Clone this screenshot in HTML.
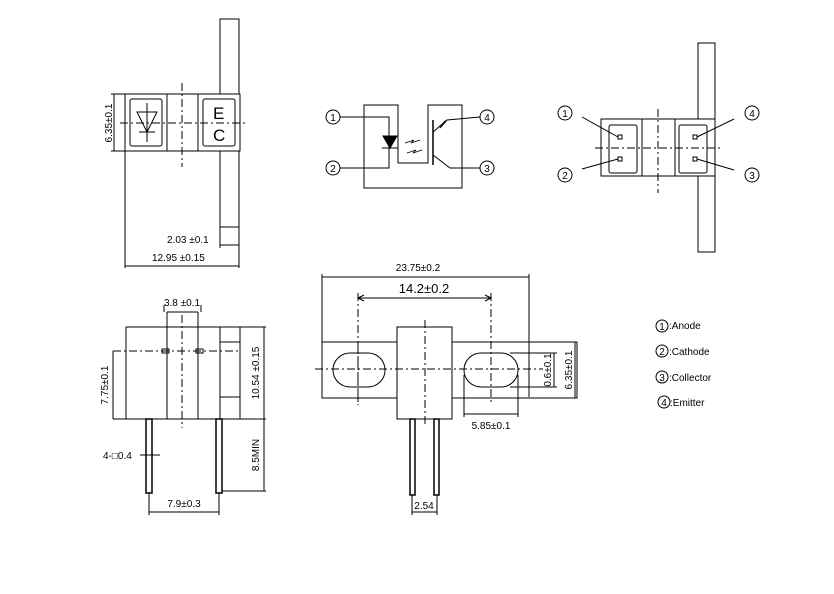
<!DOCTYPE html>
<html><head><meta charset="utf-8"><style>
html,body{margin:0;padding:0;background:#fff;}
svg{display:block;}
text{font-family:"Liberation Sans",sans-serif;fill:#000;}
</style></head><body>
<svg width="834" height="594" viewBox="0 0 834 594" xmlns="http://www.w3.org/2000/svg">
<rect width="834" height="594" fill="#fff"/>
<g stroke="#000" stroke-width="1" fill="none">
<rect x="220" y="19" width="19" height="208"/>
<rect x="125" y="94" width="115" height="57" fill="#fff"/>
<line x1="167" y1="94" x2="167" y2="151"/><line x1="198" y1="94" x2="198" y2="151"/>
<rect x="130" y="99" width="32" height="47" rx="2"/>
<rect x="203" y="99" width="32" height="47" rx="2"/>
<polygon points="137,112 157,112 147,132"/>
<line x1="147" y1="103" x2="147" y2="142"/><line x1="139" y1="132" x2="155" y2="132"/>
<line x1="120" y1="123" x2="245" y2="123" stroke-dasharray="8,3,2,3"/>
<line x1="182" y1="83" x2="182" y2="167" stroke-dasharray="8,3,2,3"/>
<line x1="114" y1="94" x2="114" y2="151"/><line x1="111" y1="94" x2="125" y2="94"/><line x1="111" y1="151" x2="125" y2="151"/>
<line x1="125" y1="151" x2="125" y2="268"/><line x1="239" y1="227" x2="239" y2="268"/><line x1="220" y1="227" x2="220" y2="248"/>
<line x1="220" y1="245" x2="239" y2="245"/><line x1="125" y1="266" x2="239" y2="266"/>
<path d="M364,105 H398 V163 H428 V105 H462 V188 H364 Z"/>
<circle cx="333" cy="117" r="7"/><circle cx="333" cy="168" r="7"/>
<circle cx="487" cy="117" r="7"/><circle cx="487" cy="168" r="7"/>
<polyline points="340,117 389,117 389,168 340,168"/>
<polygon points="383,136 397,136 390,148" fill="#000"/>
<line x1="382" y1="148" x2="398" y2="148"/>
<path d="M405,143 l9,-3 -3,3 9,-3 M407,153 l9,-3 -3,3 9,-3" stroke-width="0.8"/>
<line x1="433" y1="120" x2="433" y2="165" stroke-width="1.5"/>
<polyline points="433,132 447,120 480,117"/>
<polygon points="447,120 440,128 444,122" fill="#000"/>
<polyline points="433,155 450,168 480,168"/>
<rect x="698" y="43" width="17" height="209"/>
<rect x="601" y="119" width="114" height="57" fill="#fff"/>
<line x1="642" y1="119" x2="642" y2="176"/><line x1="675" y1="119" x2="675" y2="176"/>
<rect x="609" y="125" width="28" height="48" rx="2"/>
<rect x="679" y="125" width="28" height="48" rx="2"/>
<rect x="618" y="135" width="4" height="4"/><rect x="618" y="157" width="4" height="4"/>
<rect x="693" y="135" width="4" height="4"/><rect x="693" y="157" width="4" height="4"/>
<line x1="595" y1="148" x2="722" y2="148" stroke-dasharray="8,3,2,3"/>
<line x1="658" y1="109" x2="658" y2="193" stroke-dasharray="8,3,2,3"/>
<circle cx="565" cy="113" r="7"/><circle cx="565" cy="175" r="7"/>
<circle cx="752" cy="113" r="7"/><circle cx="752" cy="175" r="7"/>
<line x1="582" y1="117" x2="618" y2="137"/><line x1="582" y1="169" x2="618" y2="159"/>
<line x1="734" y1="119" x2="697" y2="137"/><line x1="734" y1="170" x2="697" y2="159"/>
<rect x="126" y="327" width="114" height="92"/>
<line x1="167" y1="312" x2="167" y2="419"/><line x1="198" y1="312" x2="198" y2="419"/>
<line x1="220" y1="327" x2="220" y2="419"/>
<line x1="220" y1="342" x2="240" y2="342"/><line x1="220" y1="397" x2="240" y2="397"/>
<line x1="167" y1="312" x2="198" y2="312"/>
<line x1="164" y1="305" x2="164" y2="312"/><line x1="201" y1="305" x2="201" y2="312"/>
<line x1="113" y1="351" x2="240" y2="351" stroke-dasharray="8,3,2,3"/>
<rect x="162" y="349" width="7" height="4"/><rect x="196" y="349" width="7" height="4"/>
<line x1="182" y1="315" x2="182" y2="428" stroke-dasharray="8,3,2,3"/>
<line x1="113" y1="351" x2="113" y2="419"/><line x1="113" y1="419" x2="126" y2="419"/>
<line x1="240" y1="327" x2="266" y2="327"/><line x1="264" y1="327" x2="264" y2="491"/>
<line x1="240" y1="419" x2="266" y2="419"/><line x1="222" y1="491" x2="266" y2="491"/>
<rect x="146" y="419" width="6" height="74" stroke-width="1.5"/>
<rect x="216" y="419" width="6" height="74" stroke-width="1.5"/>
<line x1="140" y1="455" x2="160" y2="455"/>
<line x1="149" y1="493" x2="149" y2="515"/><line x1="219" y1="493" x2="219" y2="515"/>
<line x1="149" y1="512" x2="219" y2="512"/>
<line x1="322" y1="277" x2="529" y2="277"/>
<line x1="322" y1="274" x2="322" y2="397"/><line x1="529" y1="274" x2="529" y2="397"/>
<line x1="358" y1="298" x2="491" y2="298"/>
<path d="M364,295 L358,298 364,301 M485,295 L491,298 485,301"/>
<line x1="358" y1="293" x2="358" y2="405" stroke-dasharray="8,3,2,3"/>
<line x1="491" y1="293" x2="491" y2="405" stroke-dasharray="8,3,2,3"/>
<rect x="322" y="342" width="255" height="56"/>
<rect x="397" y="327" width="55" height="92" fill="#fff"/>
<rect x="333" y="353" width="52" height="34" rx="17"/>
<rect x="464" y="353" width="54" height="34" rx="17"/>
<line x1="315" y1="369" x2="543" y2="369" stroke-dasharray="8,3,2,3"/>
<line x1="358" y1="345" x2="358" y2="405" stroke-dasharray="8,3,2,3"/>
<line x1="425" y1="320" x2="425" y2="425" stroke-dasharray="8,3,2,3"/>
<line x1="510" y1="353" x2="557" y2="353"/><line x1="510" y1="387" x2="557" y2="387"/>
<line x1="554" y1="353" x2="554" y2="387"/>
<line x1="575" y1="342" x2="575" y2="398"/>
<line x1="464" y1="375" x2="464" y2="417"/><line x1="518" y1="375" x2="518" y2="417"/>
<line x1="464" y1="414" x2="518" y2="414"/>
<rect x="410" y="419" width="5" height="76" stroke-width="1.5"/>
<rect x="434" y="419" width="5" height="76" stroke-width="1.5"/>
<line x1="412" y1="495" x2="412" y2="515"/><line x1="437" y1="495" x2="437" y2="515"/>
<line x1="412" y1="512" x2="437" y2="512"/>
<circle cx="662" cy="326" r="6"/><circle cx="662" cy="351" r="6"/>
<circle cx="662" cy="377" r="6"/><circle cx="664" cy="402" r="6"/>
</g>
<g style="font-size:10px">
<text x="333" y="121" text-anchor="middle">1</text>
<text x="333" y="172" text-anchor="middle">2</text>
<text x="487" y="121" text-anchor="middle">4</text>
<text x="487" y="172" text-anchor="middle">3</text>
<text x="565" y="117" text-anchor="middle">1</text>
<text x="565" y="179" text-anchor="middle">2</text>
<text x="752" y="117" text-anchor="middle">4</text>
<text x="752" y="179" text-anchor="middle">3</text>
<text x="662" y="330" text-anchor="middle">1</text>
<text x="662" y="355" text-anchor="middle">2</text>
<text x="662" y="381" text-anchor="middle">3</text>
<text x="664" y="406" text-anchor="middle">4</text>
<text x="669" y="329">:Anode</text>
<text x="669" y="355">:Cathode</text>
<text x="669" y="381">:Collector</text>
<text x="670" y="406">:Emitter</text>
<text x="112" y="123" transform="rotate(-90 112 123)" text-anchor="middle">6.35±0.1</text>
<text x="167" y="243">2.03 ±0.1</text>
<text x="152" y="261">12.95 ±0.15</text>
<text x="418" y="271" text-anchor="middle">23.75±0.2</text>
<text x="551" y="370" transform="rotate(-90 551 370)" text-anchor="middle">0.6±0.1</text>
<text x="572" y="370" transform="rotate(-90 572 370)" text-anchor="middle">6.35±0.1</text>
<text x="491" y="429" text-anchor="middle">5.85±0.1</text>
<text x="424" y="509" text-anchor="middle">2.54</text>
<text x="182" y="306" text-anchor="middle">3.8 ±0.1</text>
<text x="108" y="385" transform="rotate(-90 108 385)" text-anchor="middle">7.75±0.1</text>
<text x="259" y="373" transform="rotate(-90 259 373)" text-anchor="middle">10.54 ±0.15</text>
<text x="259" y="455" transform="rotate(-90 259 455)" text-anchor="middle">8.5MIN</text>
<text x="103" y="459">4-□0.4</text>
<text x="184" y="507" text-anchor="middle">7.9±0.3</text>
</g>
<text x="424" y="293" text-anchor="middle" style="font-size:13px">14.2±0.2</text>
<text x="213" y="119" style="font-size:17px">E</text>
<text x="213" y="141" style="font-size:17px">C</text>
</svg>
</body></html>
